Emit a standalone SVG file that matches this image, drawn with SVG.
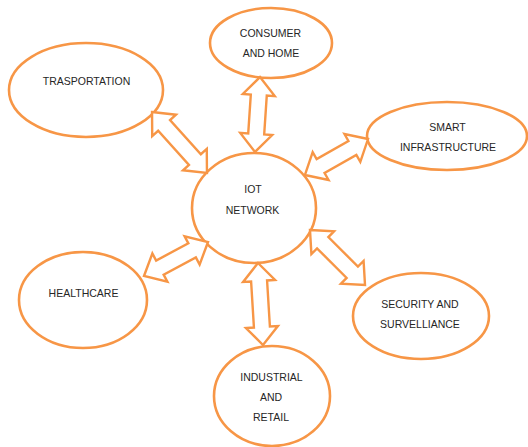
<svg xmlns="http://www.w3.org/2000/svg" width="528" height="447" viewBox="0 0 528 447">
<style>
.n{fill:#fff;stroke:#F79646;stroke-width:2.6}
.a{fill:#fff;stroke:#F79646;stroke-width:2.4;stroke-linejoin:miter}
text{font-family:"Liberation Sans",Arial,sans-serif;font-size:10.5px;fill:#262626;text-anchor:middle}
</style>
<rect width="528" height="447" fill="#fff"/>
<g id="transportation"><ellipse class="n" cx="86" cy="90" rx="77" ry="47"/><text x="86.5" y="85">TRASPORTATION</text></g>
<g id="consumer"><ellipse class="n" cx="271" cy="43" rx="61" ry="35"/><text x="270.5" y="37">CONSUMER</text><text x="271" y="57">AND HOME</text></g>
<g id="smart"><ellipse class="n" cx="447" cy="136" rx="80" ry="34"/><text x="447.5" y="131">SMART</text><text x="448" y="151">INFRASTRUCTURE</text></g>
<g id="iot"><ellipse class="n" cx="254" cy="208" rx="62" ry="55"/><text x="253" y="193">IOT</text><text x="252.5" y="214">NETWORK</text></g>
<g id="healthcare"><ellipse class="n" cx="83" cy="300" rx="64" ry="48"/><text x="83.5" y="297">HEALTHCARE</text></g>
<g id="security"><ellipse class="n" cx="421" cy="316" rx="68" ry="43"/><text x="420" y="308">SECURITY AND</text><text x="420" y="328">SURVELLIANCE</text></g>
<g id="industrial"><ellipse class="n" cx="272" cy="396" rx="58" ry="50"/><text x="271.5" y="381">INDUSTRIAL</text><text x="271" y="401">AND</text><text x="271" y="421">RETAIL</text></g>
<g id="connectors">
<path class="a" transform="translate(179.5 142.5) rotate(47.96)" d="M-41 0L-23 -16L-23 -8L23 -8L23 -16L41 0L23 16L23 8L-23 8L-23 16Z"/>
<path class="a" transform="translate(257.5 114.5) rotate(93.8)" d="M-37.5 0L-19.5 -16L-19.5 -8L19.5 -8L19.5 -16L37.5 0L19.5 16L19.5 8L-19.5 8L-19.5 16Z"/>
<path class="a" transform="translate(336.5 157) rotate(-29.7)" d="M-36.3 0L-18.3 -16L-18.3 -8L18.3 -8L18.3 -16L36.3 0L18.3 16L18.3 8L-18.3 8L-18.3 16Z"/>
<path class="a" transform="translate(337.5 257.5) rotate(45)" d="M-38.9 0L-20.9 -16L-20.9 -8L20.9 -8L20.9 -16L38.9 0L20.9 16L20.9 8L-20.9 8L-20.9 16Z"/>
<path class="a" transform="translate(260.5 304) rotate(86.5)" d="M-41.1 0L-23.1 -16L-23.1 -8L23.1 -8L23.1 -16L41.1 0L23.1 16L23.1 8L-23.1 8L-23.1 16Z"/>
<path class="a" transform="translate(176 259) rotate(-28)" d="M-36.25 0L-18.25 -16L-18.25 -8L18.25 -8L18.25 -16L36.25 0L18.25 16L18.25 8L-18.25 8L-18.25 16Z"/>
</g>
</svg>
